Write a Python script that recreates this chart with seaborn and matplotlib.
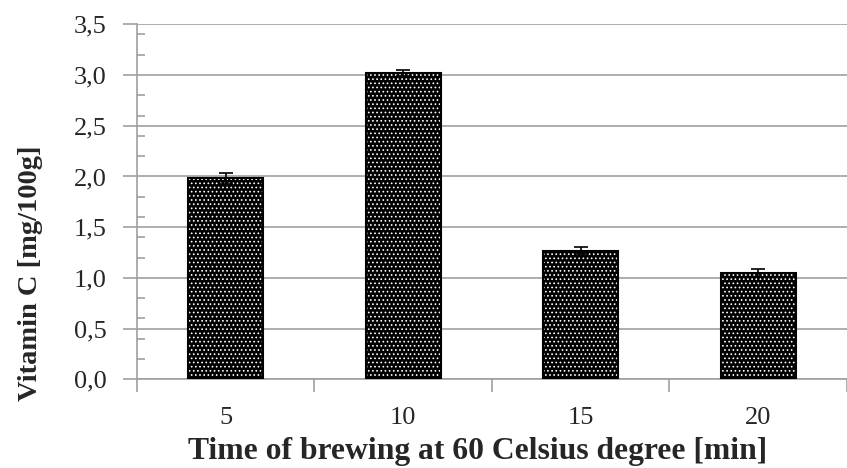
import pandas as pd
import matplotlib
import matplotlib.pyplot as plt
import seaborn as sns
from matplotlib.ticker import MultipleLocator, FuncFormatter

matplotlib.use('Agg')

# data
times = ['5', '10', '15', '20']
vitamin_c = [1.98, 3.02, 1.27, 1.05]
errors = [0.05, 0.03, 0.03, 0.04]

df = pd.DataFrame({'time': times, 'vitc': vitamin_c})

sns.set_style('white')
plt.rcParams['font.family'] = ['Liberation Serif', 'DejaVu Serif']
plt.rcParams['hatch.linewidth'] = 0.7

fig = plt.figure(figsize=(8.47, 4.68), dpi=100)
ax = fig.add_axes([0.1617, 0.1895, 0.8383, 0.7585])

# dotted fill: black bars with white dot hatch
sns.barplot(data=df, x='time', y='vitc', order=times, color='black',
            width=0.42, errorbar=None, ax=ax, zorder=2)
for p in ax.patches:
    p.set_facecolor('black')
    p.set_edgecolor('white')
    p.set_hatch('....')
    p.set_linewidth(0)
# outline on top
sns.barplot(data=df, x='time', y='vitc', order=times, fill=False,
            edgecolor='black', linewidth=1.5, width=0.42, errorbar=None,
            ax=ax, zorder=3)

ax.errorbar(range(len(times)), vitamin_c, yerr=errors, fmt='none',
            ecolor='black', elinewidth=1.2, capsize=5, capthick=1.2, zorder=4)

ax.set_xlim(-0.5, 3.5)
ax.set_ylim(0, 3.5)
ax.yaxis.set_major_locator(MultipleLocator(0.5))
ax.yaxis.set_minor_locator(MultipleLocator(0.2))
ax.yaxis.set_major_formatter(FuncFormatter(lambda v, _: f'{v:.1f}'.replace('.', ',')))
ax.grid(axis='y', which='major', color='#a0a0a0', linewidth=1.2, zorder=0)
ax.set_axisbelow(True)

for s in ['top', 'right']:
    ax.spines[s].set_visible(False)
for s in ['left', 'bottom']:
    ax.spines[s].set_color('#a0a0a0')
    ax.spines[s].set_linewidth(1.2)

# x ticks sit between categories, labels at category centres
ax.set_xticks([-0.5, 0.5, 1.5, 2.5, 3.5])
ax.set_xticklabels([])
ax.set_xticks(range(len(times)), minor=True)
ax.set_xticklabels(times, minor=True)
ax.tick_params(axis='x', which='major', direction='out', length=9, width=1.2,
               color='#a0a0a0', bottom=True)
ax.tick_params(axis='x', which='minor', length=0, pad=20, labelsize=19)
ax.tick_params(axis='y', which='major', direction='out', length=10, width=1.2,
               color='#a0a0a0', left=True, labelsize=19, pad=12)
ax.tick_params(axis='y', which='minor', direction='in', length=6, width=1.2,
               color='#a0a0a0', left=True)

ax.set_xlabel('Time of brewing at 60 Celsius degree [min]', fontsize=22.8,
              fontweight='bold')
ax.set_ylabel('Vitamin C [mg/100g]', fontsize=20.5, fontweight='bold')
ax.xaxis.set_label_coords(0.48, -0.163)
ax.yaxis.set_label_coords(-0.132, 0.30)

plt.savefig('out.png', dpi=100)
plt.close('all')
